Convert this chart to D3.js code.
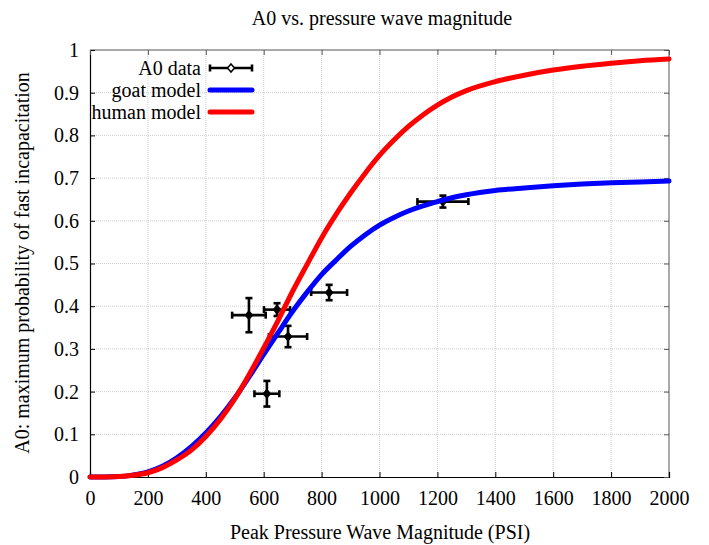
<!DOCTYPE html>
<html><head><meta charset="utf-8">
<script src="https://cdn.jsdelivr.net/npm/d3@7"></script>
<style>body{margin:0;background:#fff}svg{display:block}</style>
</head><body><svg id="c" width="709" height="545"></svg>
<script>
const title = "A0 vs. pressure wave magnitude";
const xTitle = "Peak Pressure Wave Magnitude (PSI)";
const yTitle = "A0: maximum probability of fast incapacitation";
const xTicks = [0,200,400,600,800,1000,1200,1400,1600,1800,2000];
const yTicks = [0,0.1,0.2,0.3,0.4,0.5,0.6,0.7,0.8,0.9,1];
const yTickLabels = ["0","0.1","0.2","0.3","0.4","0.5","0.6","0.7","0.8","0.9","1"];
// A0 data
const dataX  = [549, 646, 684, 611, 826, 1219];
const dataY  = [0.379, 0.392, 0.329, 0.195, 0.432, 0.645];
const dataXErr = [58, 45, 66, 43, 62, 88];
const dataYErr = [0.040, 0.015, 0.025, 0.030, 0.018, 0.014];
// model curves
const modelX = [0,50,100,150,200,250,300,350,400,450,500,550,600,650,700,750,800,850,900,950,1000,1050,1100,1150,1200,1250,1300,1400,1500,1600,1700,1800,1900,2000];
const goatY  = [0,0.0002,0.001,0.005,0.012,0.025,0.045,0.071,0.103,0.141,0.185,0.235,0.287,0.338,0.388,0.433,0.474,0.508,0.540,0.567,0.590,0.608,0.623,0.635,0.645,0.654,0.661,0.671,0.677,0.682,0.686,0.689,0.691,0.693];
const humanY = [0,0.0002,0.001,0.004,0.010,0.022,0.040,0.063,0.095,0.135,0.183,0.240,0.302,0.367,0.435,0.498,0.560,0.615,0.665,0.711,0.753,0.789,0.821,0.848,0.871,0.890,0.905,0.926,0.941,0.953,0.962,0.969,0.975,0.979];
const legendLabels = ["A0 data","goat model","human model"];
const colors = {data:"#000", goat:"#0000ff", human:"#ff0000"};

const FF = "'Liberation Serif', 'Times New Roman', Times, serif";
const FSZ = 20;
const svg = d3.select("#c");
const L=90,R=669,T=50,B=477;
const x = d3.scaleLinear().domain([0,2000]).range([L,R]);
const y = d3.scaleLinear().domain([0,1]).range([B,T]);

// grid
const g = svg.append("g");
g.selectAll(".gx").data(xTicks.slice(1,-1)).join("line")
 .attr("x1",d=>x(d)).attr("x2",d=>x(d)).attr("y1",T).attr("y2",B)
 .attr("stroke","#d0d0d0").attr("stroke-dasharray","1,1");
g.selectAll(".gy").data(yTicks.slice(1,-1)).join("line")
 .attr("y1",d=>y(d)).attr("y2",d=>y(d)).attr("x1",L).attr("x2",R)
 .attr("stroke","#d0d0d0").attr("stroke-dasharray","1,1");

// frame
svg.append("line").attr("x1",L).attr("x2",R).attr("y1",T).attr("y2",T).attr("stroke","#555");
svg.append("line").attr("x1",R).attr("x2",R).attr("y1",T).attr("y2",B).attr("stroke","#555");

// axes
const xa = svg.append("g").attr("transform",`translate(0,${B})`)
 .call(d3.axisBottom(x).tickValues(xTicks).tickSize(-5).tickPadding(14).tickFormat(d3.format("d")));
const ya = svg.append("g").attr("transform",`translate(${L},0)`)
 .call(d3.axisLeft(y).tickValues(yTicks).tickSize(-5).tickPadding(11).tickFormat((d,i)=>yTickLabels[i]));
const xt = svg.append("g").attr("transform",`translate(0,${T})`)
 .call(d3.axisTop(x).tickValues(xTicks).tickSize(-5).tickFormat(""));
const yr = svg.append("g").attr("transform",`translate(${R},0)`)
 .call(d3.axisRight(y).tickValues(yTicks).tickSize(-5).tickFormat(""));
[xa,ya].forEach(a=>{a.attr("font-family",FF).attr("font-size",FSZ);a.select(".domain").attr("stroke","#000").attr("stroke-width",1.2);a.selectAll(".tick line").attr("stroke","#000");
 a.selectAll("text").attr("fill","#000");});
[xt,yr].forEach(a=>{a.select(".domain").remove();a.selectAll(".tick line").attr("stroke","#555");});

// error bars
function errBar(gg, cx, cy, xe, ye, isLegend){
  const c=colors.data, w=2.6, cap=3.5;
  const x1=isLegend?xe[0]:x(cx-xe), x2=isLegend?xe[1]:x(cx+xe);
  const px=isLegend?cx:x(cx), py=isLegend?cy:y(cy);
  gg.append("line").attr("x1",x1).attr("x2",x2).attr("y1",py).attr("y2",py).attr("stroke",c).attr("stroke-width",w);
  gg.append("line").attr("x1",x1).attr("x2",x1).attr("y1",py-cap).attr("y2",py+cap).attr("stroke",c).attr("stroke-width",w);
  gg.append("line").attr("x1",x2).attr("x2",x2).attr("y1",py-cap).attr("y2",py+cap).attr("stroke",c).attr("stroke-width",w);
  if(!isLegend){
    const y1=y(cy+ye), y2=y(cy-ye);
    gg.append("line").attr("x1",px).attr("x2",px).attr("y1",y1).attr("y2",y2).attr("stroke",c).attr("stroke-width",w);
    gg.append("line").attr("x1",px-cap).attr("x2",px+cap).attr("y1",y1).attr("y2",y1).attr("stroke",c).attr("stroke-width",w);
    gg.append("line").attr("x1",px-cap).attr("x2",px+cap).attr("y1",y2).attr("y2",y2).attr("stroke",c).attr("stroke-width",w);
  }
  gg.append("path").attr("d",`M${px},${py-4}L${px+3.5},${py}L${px},${py+4}L${px-3.5},${py}Z`)
    .attr("fill",isLegend?"#fff":"#000").attr("stroke",c).attr("stroke-width",1.5);
}
const dg = svg.append("g");
dataX.forEach((d,i)=>errBar(dg,d,dataY[i],dataXErr[i],dataYErr[i],false));

const line = d3.line().curve(d3.curveMonotoneX);
svg.append("path").attr("d",line(modelX.map((d,i)=>[x(d),y(goatY[i])])))
 .attr("fill","none").attr("stroke",colors.goat).attr("stroke-width",5).attr("stroke-linecap","round");
svg.append("path").attr("d",line(modelX.map((d,i)=>[x(d),y(humanY[i])])))
 .attr("fill","none").attr("stroke",colors.human).attr("stroke-width",5).attr("stroke-linecap","round");

// legend
const lg = svg.append("g");
const ly=[68,90,112];
legendLabels.forEach((t,i)=>{
  lg.append("text").attr("x",201).attr("y",ly[i]+7).attr("text-anchor","end").attr("font-family",FF).attr("font-size",FSZ).text(t);
});
errBar(lg,231,ly[0],[210,252],0,true);
lg.append("line").attr("x1",210).attr("x2",252).attr("y1",ly[1]).attr("y2",ly[1]).attr("stroke",colors.goat).attr("stroke-width",5).attr("stroke-linecap","round");
lg.append("line").attr("x1",210).attr("x2",252).attr("y1",ly[2]).attr("y2",ly[2]).attr("stroke",colors.human).attr("stroke-width",5).attr("stroke-linecap","round");

// titles
svg.append("text").attr("x",382).attr("y",25).attr("text-anchor","middle").attr("font-family",FF).attr("font-size",FSZ).text(title);
svg.append("text").attr("x",380).attr("y",539).attr("text-anchor","middle").attr("font-family",FF).attr("font-size",FSZ).text(xTitle);
svg.append("text").attr("transform","translate(29,263) rotate(-90)").attr("text-anchor","middle").attr("font-family",FF).attr("font-size",FSZ).text(yTitle);
</script></body></html>
